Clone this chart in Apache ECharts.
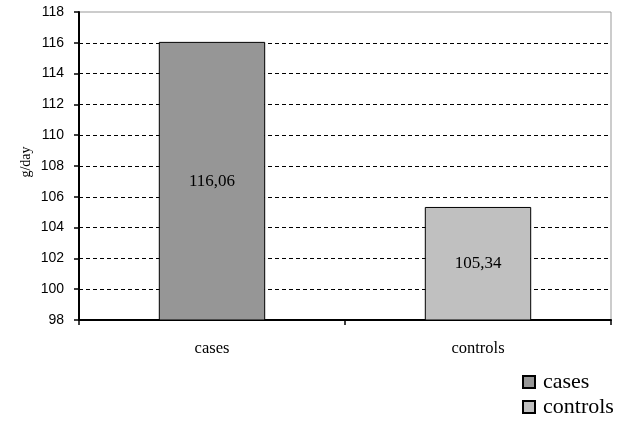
<!DOCTYPE html>
<html><head><meta charset="utf-8">
<script src="https://cdn.jsdelivr.net/npm/echarts@6/dist/echarts.min.js"></script>
<style>html,body{margin:0;padding:0;background:#fff}#c{width:621px;height:423px}</style>
</head><body><div id="c"></div>
<script>
const categories = ['cases', 'controls'];
const seriesNames = ['cases', 'controls'];
const values = [116.06, 105.34];
const yTicks = [98, 100, 102, 104, 106, 108, 110, 112, 114, 116, 118];
const colors = ['#969696', '#c0c0c0'];

const chart = echarts.init(document.getElementById('c'));
const serif = 'Liberation Serif';
const sans = 'Liberation Sans';
const gridColors = yTicks.map((t, i) => i === yTicks.length - 1 ? 'rgba(0,0,0,0)' : '#000');
const legendTops = [371, 396];

chart.setOption({
  animation: false,
  backgroundColor: '#fff',
  grid: { left: 79, right: 10, top: 12, bottom: 103, show: true, borderColor: '#999', borderWidth: 1 },
  legend: seriesNames.map((name, i) => ({
    orient: 'vertical', left: 522, top: legendTops[i], padding: 0, icon: 'rect', itemWidth: 12, itemHeight: 12,
    data: [name],
    textStyle: { fontFamily: serif, fontSize: 22, color: '#000', padding: [0, 0, 0, 3] }
  })),
  xAxis: {
    type: 'category', data: categories,
    axisLine: { lineStyle: { color: '#000', width: 2 } },
    axisTick: { show: true, length: 5, lineStyle: { color: '#000', width: 1.5 } },
    axisLabel: { fontFamily: serif, fontSize: 16.5, color: '#000', margin: 20 }
  },
  yAxis: {
    type: 'value', min: yTicks[0], max: yTicks[yTicks.length - 1], interval: 2,
    name: 'g/day', nameLocation: 'middle', nameRotate: 90, nameGap: 46, nameMoveOverlap: false,
    nameTextStyle: { fontFamily: serif, fontSize: 14, color: '#000', padding: [0, 0, 0, 8] },
    axisLine: { show: true, lineStyle: { color: '#000', width: 2 } },
    axisTick: { show: true, length: 5, lineStyle: { color: '#000', width: 1.5 } },
    axisLabel: { fontFamily: sans, fontSize: 14, color: '#000', margin: 15 },
    splitLine: { show: true, lineStyle: { color: gridColors, type: [4, 3], width: 1 } }
  },
  series: seriesNames.map((name, i) => ({
    name: name, type: 'bar', stack: 'all', barWidth: '40%',
    data: categories.map((c, j) => j === i ? values[i] : '-'),
    itemStyle: { color: colors[i], borderColor: '#000', borderWidth: 1 },
    label: {
      show: true, position: 'inside', fontFamily: serif, fontSize: 17, color: '#000',
      formatter: p => p.value.toFixed(2).replace('.', ',')
    }
  }))
});
</script></body></html>
